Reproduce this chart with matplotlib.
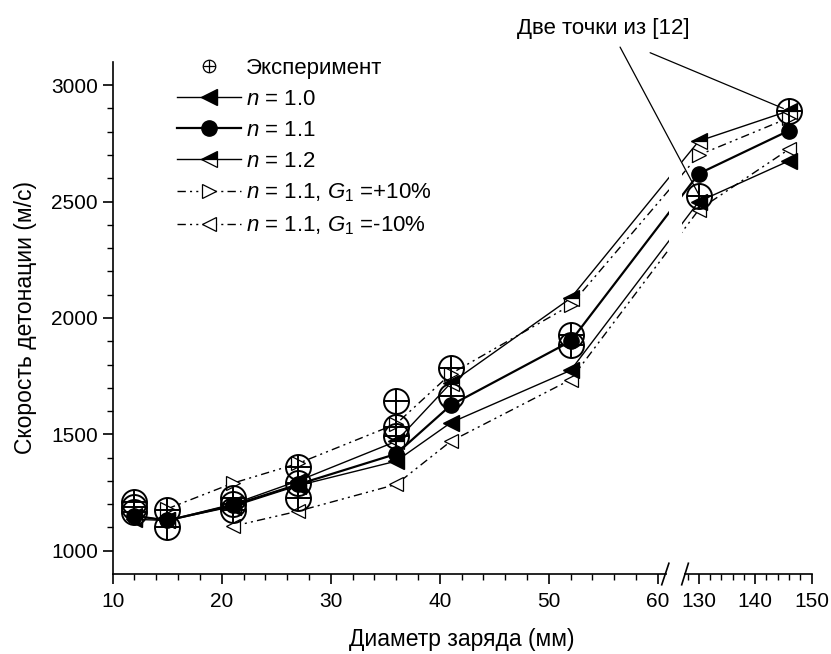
import numpy as np
import matplotlib
matplotlib.use("Agg")
from matplotlib import pyplot as plt
from matplotlib.lines import Line2D
from matplotlib.legend_handler import HandlerTuple
import matplotlib.transforms as mtransforms

plt.rcParams['font.family'] = ['Liberation Sans', 'DejaVu Sans']
plt.rcParams['mathtext.fontset'] = 'custom'
plt.rcParams['mathtext.rm'] = 'Liberation Sans'
plt.rcParams['mathtext.it'] = 'Liberation Sans:italic'

# experiment
exp_d = [12, 12, 12, 15, 15, 21, 21, 21, 27, 27, 27, 36, 36, 36, 41, 41, 52, 52, 130, 146]
exp_v = [1210, 1190, 1165, 1175, 1100, 1225, 1200, 1175, 1360, 1290, 1225,
         1645, 1530, 1495, 1785, 1665, 1925, 1885, 2525, 2890]

# model curves
d_all = [12, 15, 21, 27, 36, 41, 52, 130, 146]
v_n10 = [1135, 1130, 1190, 1280, 1385, 1550, 1775, 2500, 2675]
v_n11 = [1150, 1130, 1195, 1285, 1416, 1625, 1900, 2620, 2805]
v_n12 = [1150, 1130, 1200, 1300, 1470, 1720, 2085, 2760, 2890]

d_gp = [15, 21, 27, 36, 41, 52, 130, 146]
v_gp = [1180, 1290, 1375, 1545, 1760, 2055, 2700, 2860]
d_gm = [21, 27, 36, 41, 52, 130, 146]
v_gm = [1105, 1170, 1285, 1470, 1735, 2465, 2725]

# broken x axis: 10..61 linear, 127..150 compressed
brk_lo, brk_hi = 61.0, 127.0
ratio = 0.517
u_hi = 62.2
knots_x = [-1000.0, brk_lo, brk_hi, 1000.0]
knots_u = [-1000.0, brk_lo, u_hi, u_hi + (1000.0 - brk_hi) * ratio]


def fwd(x):
    return np.interp(x, knots_x, knots_u)


def inv(u):
    return np.interp(u, knots_u, knots_x)


fig = plt.figure(figsize=(8.31, 6.54), dpi=100)
ax = fig.add_axes([0.1356, 0.1223, 0.841, 0.783])
ax.set_xscale('function', functions=(fwd, inv))
ax.set_xlim(10, 150)
ax.set_ylim(900, 3100)

dashdot2 = (0, (6, 3, 1.5, 3, 1.5, 3))

ax.plot(d_gp, v_gp, color='black', lw=1.0, ls=dashdot2, marker='>', ms=10,
        mfc='white', mec='black', mew=0.9, zorder=3)
ax.plot(d_gm, v_gm, color='black', lw=1.0, ls=dashdot2, marker='<', ms=10,
        mfc='white', mec='black', mew=0.9, zorder=3)
ax.plot(d_all, v_n10, color='black', lw=1.0, marker='<', ms=11,
        mfc='black', mec='black', zorder=4)
ax.plot(d_all, v_n12, color='black', lw=1.0, marker='<', ms=11,
        fillstyle='top', mfc='black', mfcalt='white', mec='black', mew=0.9, zorder=4)
ax.plot(d_all, v_n11, color='black', lw=1.6, marker='o', ms=11,
        mfc='black', mec='black', zorder=5)

ax.plot(exp_d, exp_v, ls='none', marker='o', ms=18, mfc='none', mec='black',
        mew=1.4, zorder=6)
ax.plot(exp_d, exp_v, ls='none', marker='+', ms=18, mec='black', mew=1.4, zorder=6)

# gap for the break
ax.axvspan(brk_lo + 0.3, brk_hi - 0.5, color='white', zorder=7, lw=0)

# axes styling
for s in ['top', 'right']:
    ax.spines[s].set_visible(False)
for s in ['left', 'bottom']:
    ax.spines[s].set_linewidth(1.2)

ax.set_xticks([10, 20, 30, 40, 50, 60, 130, 140, 150])
minor_x = [v for v in range(12, 60, 2) if v % 10 != 0] + [128] + [v for v in range(132, 150, 2) if v % 10 != 0]
ax.set_xticks(minor_x, minor=True)
ax.set_yticks([1000, 1500, 2000, 2500, 3000])
ax.set_yticks(np.arange(1000, 3100, 100), minor=True)
ax.tick_params(which='major', direction='out', length=7, width=1.2, labelsize=15)
ax.tick_params(axis='x', which='major', pad=6)
ax.tick_params(which='minor', direction='out', length=4, width=1.0)

ax.set_xlabel('Диаметр заряда (мм)', fontsize=16.5, labelpad=12)
ax.set_ylabel('Скорость детонации (м/с)', fontsize=16.5, labelpad=10)

# break marks on the x axis
trans = mtransforms.blended_transform_factory(ax.transData, ax.transAxes)
ax.plot([brk_lo, brk_hi], [0, 0], color='white', lw=3, transform=trans,
        clip_on=False, zorder=9)
for xc, dx in [(brk_lo - 0.1, 0.55), (brk_hi + 0.1, 1.05)]:
    ax.plot([xc - dx, xc + dx], [-0.021, 0.021], color='black', lw=1.2,
            transform=trans, clip_on=False, zorder=10)

# annotation
ax.text(0.702, 1.066, 'Две точки из [12]', transform=ax.transAxes,
        ha='center', va='center', fontsize=16)
ax.annotate('', xy=(130, 2530), xycoords='data', xytext=(0.726, 1.029),
            textcoords='axes fraction',
            arrowprops=dict(arrowstyle='-', color='black', lw=0.9,
                            shrinkA=0, shrinkB=0), zorder=11)
ax.annotate('', xy=(145, 2900), xycoords='data', xytext=(0.769, 1.018),
            textcoords='axes fraction',
            arrowprops=dict(arrowstyle='-', color='black', lw=0.9,
                            shrinkA=0, shrinkB=0), zorder=11)

# legend
h_exp = (Line2D([], [], ls='none', marker='o', ms=9, mfc='none', mec='black', mew=0.9),
         Line2D([], [], ls='none', marker='+', ms=9, mec='black', mew=0.9))
h_n10 = Line2D([], [], color='black', lw=1.0, marker='<', ms=11, mfc='black', mec='black')
h_n11 = Line2D([], [], color='black', lw=1.6, marker='o', ms=11, mfc='black', mec='black')
h_n12 = Line2D([], [], color='black', lw=1.0, marker='<', ms=11, fillstyle='top',
               mfc='black', mfcalt='white', mec='black', mew=0.9)
h_gp = Line2D([], [], color='black', lw=1.0, ls=dashdot2, marker='>', ms=10,
              mfc='white', mec='black', mew=0.9)
h_gm = Line2D([], [], color='black', lw=1.0, ls=dashdot2, marker='<', ms=10,
              mfc='white', mec='black', mew=0.9)
labels = ['Эксперимент', '$n$ = 1.0', '$n$ = 1.1', '$n$ = 1.2',
          '$n$ = 1.1, $G_{\\mathit{1}}$ =+10%', '$n$ = 1.1, $G_{\\mathit{1}}$ =-10%']
leg = ax.legend([h_exp, h_n10, h_n11, h_n12, h_gp, h_gm], labels,
                handler_map={tuple: HandlerTuple(ndivide=1, pad=0)},
                loc='upper left', bbox_to_anchor=(0.076, 1.03), frameon=False,
                fontsize=16, handlelength=2.9, handletextpad=0.2,
                labelspacing=0.45, borderpad=0, numpoints=1)
leg.set_zorder(12)

fig.savefig('out.png', dpi=100)
